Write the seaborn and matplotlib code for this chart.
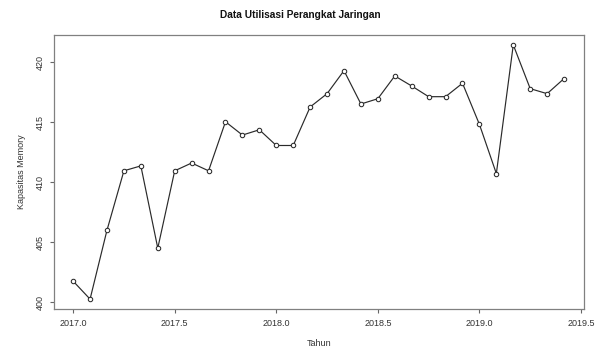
import numpy as np
import pandas as pd
import matplotlib
matplotlib.use("Agg")
import matplotlib.pyplot as plt
import seaborn as sns

# Monthly observations, Jan 2017 - Jun 2019
start_year = 2017.0
kapasitas = [401.75, 400.25, 406.0, 410.95, 411.36, 404.5, 410.95, 411.6, 410.95,
             415.04, 413.93, 414.37, 413.06, 413.06, 416.27, 417.38, 419.3, 416.52,
             416.96, 418.86, 418.02, 417.13, 417.13, 418.25, 414.82, 410.72,
             421.45, 417.8, 417.38, 418.64]
x_ticks = [2017.0, 2017.5, 2018.0, 2018.5, 2019.0, 2019.5]
y_ticks = [400, 405, 410, 415, 420]

tahun = start_year + np.arange(len(kapasitas)) / 12.0
df = pd.DataFrame({"Tahun": tahun, "Kapasitas": kapasitas})

sns.set_style("white")
plt.rcParams["font.family"] = ["Liberation Sans", "DejaVu Sans"]

fig = plt.figure(figsize=(6.01, 3.52), dpi=100)
ax = fig.add_axes([53.5 / 601, 1 - 309.3 / 352, (583.7 - 53.5) / 601, (309.3 - 34.7) / 352])

sns.lineplot(data=df, x="Tahun", y="Kapasitas", ax=ax, color="#2a2a2a", linewidth=0.85,
             marker="o", markersize=3.2, markerfacecolor="white",
             markeredgecolor="#2a2a2a", markeredgewidth=0.75)

# axis ranges padded by 4% like R's default
xr = tahun.max() - tahun.min()
yr = max(kapasitas) - min(kapasitas)
ax.set_xlim(tahun.min() - 0.04 * xr, tahun.max() + 0.04 * xr)
ax.set_ylim(min(kapasitas) - 0.04 * yr, max(kapasitas) + 0.04 * yr)

ax.set_xticks(x_ticks)
ax.set_xticklabels([f"{t:.1f}" for t in x_ticks], fontsize=6.5)
ax.set_yticks(y_ticks)
ax.set_yticklabels([str(t) for t in y_ticks], fontsize=6.5, rotation=90, va="center")
ax.tick_params(axis="both", direction="out", length=3, width=0.8, colors="#666666",
               labelcolor="#333333", bottom=True, left=True)
ax.tick_params(axis="x", pad=4)
ax.tick_params(axis="y", pad=3)

for s in ax.spines.values():
    s.set_visible(True)
    s.set_color("#808080")
    s.set_linewidth(0.9)

ax.set_xlabel("Tahun", fontsize=6.5, color="#333333", labelpad=8)
ax.set_ylabel("Kapasitas Memory", fontsize=6.5, color="#333333", labelpad=7)
fig.text(0.5, 1 - 15 / 352, "Data Utilisasi Perangkat Jaringan", ha="center", va="center",
         fontsize=7.3, fontweight="bold", color="#111111")

fig.savefig("out.png", dpi=100, facecolor="white")
